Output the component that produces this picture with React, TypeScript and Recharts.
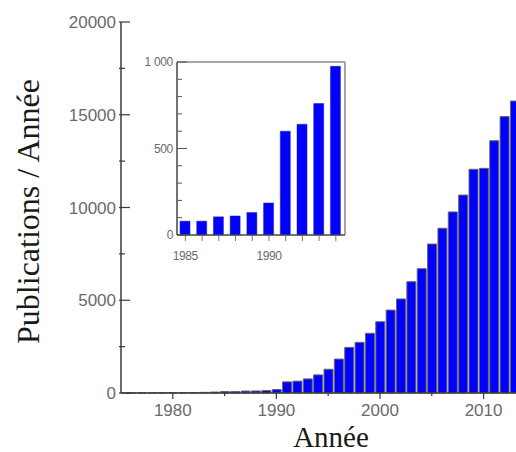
import { BarChart, Bar, XAxis, YAxis, ReferenceLine } from 'recharts';

// publications per year
const YEARS = [
  1976, 1977, 1978, 1979, 1980, 1981, 1982, 1983, 1984, 1985, 1986, 1987, 1988,
  1989, 1990, 1991, 1992, 1993, 1994, 1995, 1996, 1997, 1998, 1999, 2000, 2001,
  2002, 2003, 2004, 2005, 2006, 2007, 2008, 2009, 2010, 2011, 2012, 2013,
];
const PUBLICATIONS = [
  5, 8, 10, 12, 15, 20, 25, 35, 50, 80, 80, 105, 110, 130, 185, 600, 640, 760,
  975, 1280, 1830, 2460, 2730, 3220, 3840, 4470, 5070, 6000, 6700, 8030, 8880,
  9760, 10670, 12060, 12110, 13600, 14900, 15740,
];

const MAIN_Y_TICKS = [0, 2500, 5000, 7500, 10000, 12500, 15000, 17500, 20000];
const MAIN_X_TICKS = [1980, 1985, 1990, 1995, 2000, 2005, 2010];
const INSET_Y_TICKS = [0, 100, 200, 300, 400, 500, 600, 700, 800, 900, 1000];
const INSET_X_TICKS = [1985, 1986, 1987, 1988, 1989, 1990, 1991, 1992, 1993, 1994];

const data = YEARS.map((year, i) => ({ year, value: PUBLICATIONS[i] }));
const insetData = data.filter((d) => d.year >= 1985 && d.year <= 1994);

const SANS = '"Liberation Sans", Arial, sans-serif';
const SERIF = '"Liberation Serif", "Times New Roman", serif';
const TICK_COLOR = '#6a6a6a';
const AXIS_COLOR = '#3a3a3a';

function MainYTick({ x, y, payload }: any) {
  const major = payload.value % 5000 === 0;
  return (
    <g>
      <line x1={x - 2} x2={x + (major ? 9 : 4)} y1={y} y2={y} stroke={AXIS_COLOR} strokeWidth={1.2} />
      {major && (
        <text x={x - 5} y={y} dy={6} textAnchor="end" fontSize={17} fontFamily={SANS} fill={TICK_COLOR}>
          {payload.value}
        </text>
      )}
    </g>
  );
}

function MainXTick({ x, y, payload }: any) {
  const major = payload.value % 10 === 0;
  return (
    <g>
      <line x1={x} x2={x} y1={y} y2={y + (major ? 6 : 3)} stroke={AXIS_COLOR} strokeWidth={1.2} />
      {major && (
        <text x={x} y={y} dy={23} textAnchor="middle" fontSize={17} fontFamily={SANS} fill={TICK_COLOR}>
          {payload.value}
        </text>
      )}
    </g>
  );
}

function InsetYTick({ x, y, payload }: any) {
  const major = payload.value % 500 === 0;
  const label = payload.value === 1000 ? '1 000' : String(payload.value);
  return (
    <g>
      <line x1={x} x2={x + (major ? 10 : 5)} y1={y} y2={y} stroke="#555" />
      {major && (
        <text x={x - 4} y={y} dy={4} textAnchor="end" fontSize={12} letterSpacing={-0.3} fontFamily={SANS} fill={TICK_COLOR}>
          {label}
        </text>
      )}
    </g>
  );
}

function InsetXTick({ x, y, payload }: any) {
  const labelled = payload.value % 5 === 0;
  return (
    <g>
      <line x1={x} x2={x} y1={y} y2={y + 6} stroke="#777" />
      {labelled && (
        <text x={x} y={y} dy={25} textAnchor="middle" fontSize={12} letterSpacing={-0.4} fontFamily={SANS} fill={TICK_COLOR}>
          {payload.value}
        </text>
      )}
    </g>
  );
}

function YTitle({ viewBox }: any) {
  const cx = viewBox.x + 39;
  const cy = viewBox.y + viewBox.height / 2 + 4;
  return (
    <text
      x={cx}
      y={cy}
      textAnchor="middle"
      transform={`rotate(-90, ${cx}, ${cy})`}
      fontSize={32}
      fontFamily={SERIF}
      fill="#1a1a1a"
    >
      Publications / Année
    </text>
  );
}

function XTitle({ viewBox }: any) {
  return (
    <text
      x={viewBox.x + viewBox.width / 2 + 8}
      y={viewBox.y + 54}
      textAnchor="middle"
      fontSize={29}
      fontFamily={SERIF}
      fill="#1a1a1a"
    >
      Année
    </text>
  );
}

export default function App() {
  return (
    <div
      style={{
        position: 'absolute',
        left: 0,
        top: 0,
        width: 516,
        height: 452,
        overflow: 'hidden',
        background: '#fff',
      }}
    >
      <BarChart width={535} height={452} data={data} margin={{ top: 22, right: 10, left: 0, bottom: 0 }}>
        <XAxis
          dataKey="year"
          type="number"
          domain={[1975, 2014]}
          ticks={MAIN_X_TICKS}
          interval={0}
          height={59}
          tickSize={0}
          tickMargin={0}
          tickLine={false}
          tick={<MainXTick />}
          axisLine={{ stroke: AXIS_COLOR, strokeWidth: 1.5 }}
          label={{ value: 'Année', content: <XTitle /> }}
        />
        <YAxis
          type="number"
          domain={[0, 20000]}
          ticks={MAIN_Y_TICKS}
          interval={0}
          width={121}
          tickSize={0}
          tickMargin={0}
          tickLine={false}
          tick={<MainYTick />}
          axisLine={{ stroke: AXIS_COLOR, strokeWidth: 1.5 }}
          label={{ value: 'Publications / Année', content: <YTitle /> }}
        />
        <Bar dataKey="value" barSize={9} fill="#0000ff" stroke="#666" strokeWidth={1} isAnimationActive={false} />
      </BarChart>

      <div style={{ position: 'absolute', left: 130, top: 50 }}>
        <BarChart width={230} height={240} data={insetData} margin={{ top: 12, right: 15, left: 0, bottom: 0 }}>
          <XAxis
            dataKey="year"
            type="number"
            domain={[1984.5, 1994.55]}
            ticks={INSET_X_TICKS}
            interval={0}
            height={55}
            tickSize={0}
            tickMargin={0}
            tickLine={false}
            tick={<InsetXTick />}
            axisLine={{ stroke: '#444', strokeWidth: 1.5 }}
          />
          <YAxis
            type="number"
            domain={[0, 1000]}
            ticks={INSET_Y_TICKS}
            interval={0}
            width={47}
            tickSize={0}
            tickMargin={0}
            tickLine={false}
            tick={<InsetYTick />}
            axisLine={{ stroke: '#444', strokeWidth: 1.5 }}
          />
          <ReferenceLine y={1000} stroke="#888" strokeWidth={1.5} />
          <ReferenceLine x={1994.55} stroke="#888" strokeWidth={1.5} />
          <Bar dataKey="value" barSize={10} fill="#0000ff" stroke="#2020a0" strokeWidth={0.5} isAnimationActive={false} />
        </BarChart>
      </div>
    </div>
  );
}
